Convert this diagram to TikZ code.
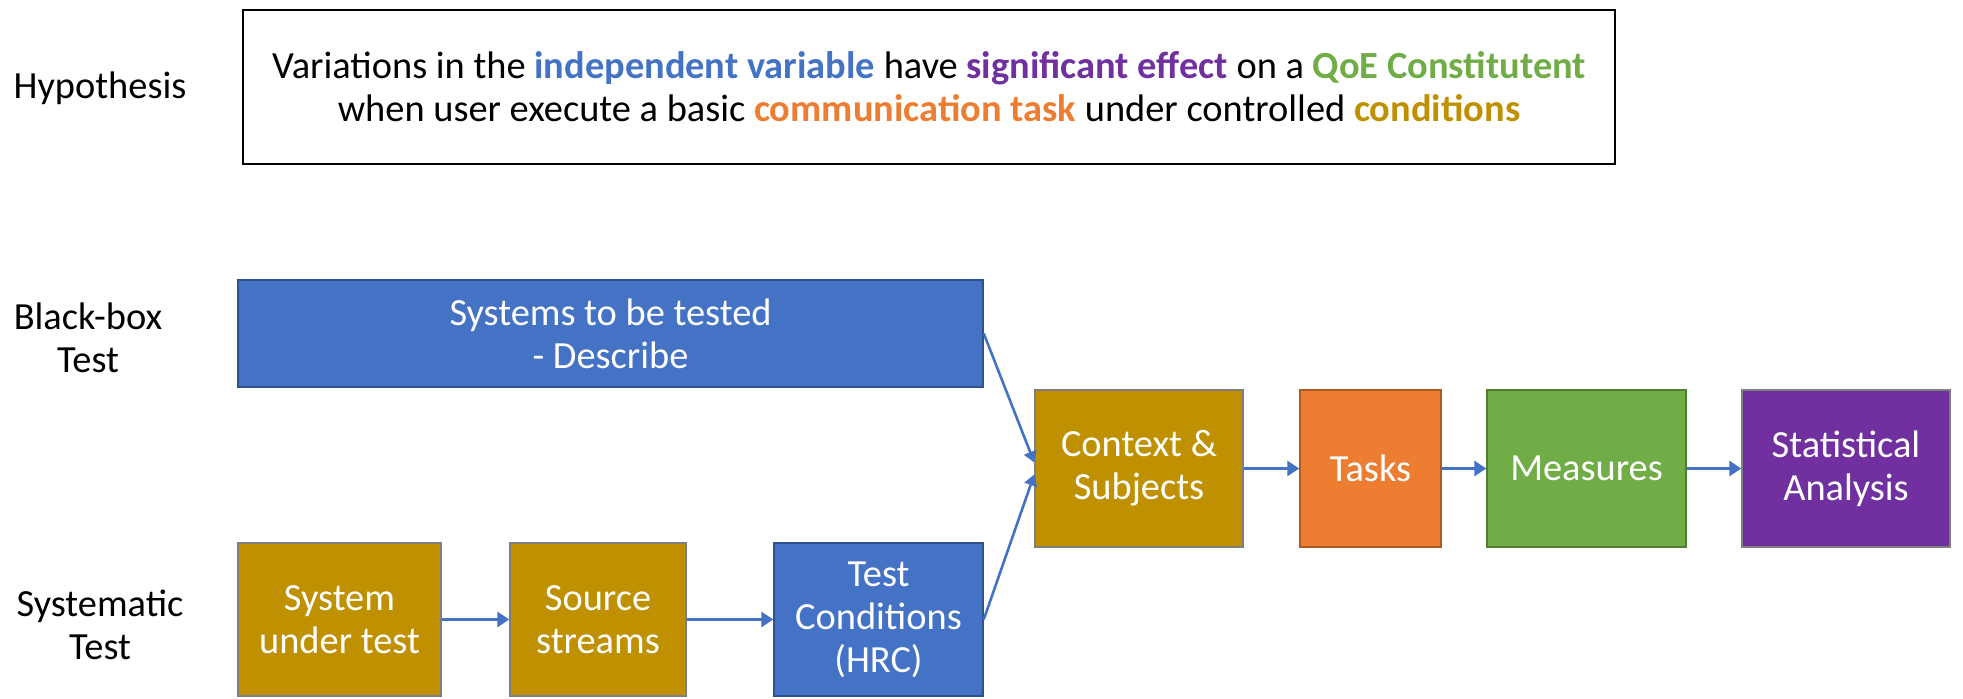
\documentclass[tikz,border=0pt]{standalone}
\usepackage{fontspec}
\setmainfont{Carlito}
\usetikzlibrary{arrows.meta}

\definecolor{offblue}{HTML}{4472C4}
\definecolor{offblueline}{HTML}{2F528F}
\definecolor{offgold}{HTML}{BF9000}
\definecolor{offorange}{HTML}{ED7D31}
\definecolor{offorangeline}{HTML}{AE5A21}
\definecolor{offgreen}{HTML}{70AD47}
\definecolor{offgreenline}{HTML}{507E32}
\definecolor{offpurple}{HTML}{7030A0}
\definecolor{offgray}{HTML}{7F7F7F}

\begin{document}
\begin{tikzpicture}[x=0.5pt, y=-0.5pt,
    every node/.style={font=\fontsize{19.2}{21.5}\selectfont, align=center, inner sep=0},
    blk/.style={draw, line width=0.75pt, text=white},
    blueblk/.style={blk, fill=offblue, draw=offblueline},
    goldblk/.style={blk, fill=offgold, draw=offgray},
    link/.style={draw=offblue, line width=1.9pt, -{Triangle[length=6pt, width=7.5pt]}},
    feed/.style={draw=offblue, line width=1.3pt, -{Triangle[length=5.5pt, width=6.5pt]}}]
    \useasboundingbox (0, 0) rectangle (1963, 699);

    % row labels
    \node (hyp-label) at (100, 88) {Hypothesis};
    \node (bb-label) at (88, 338) {Black-box\\Test};
    \node (sys-label) at (100, 625) {Systematic\\Test};

    % hypothesis
    \node[draw=black, line width=1pt, minimum width=686pt, minimum height=77pt]
        (hyp) at (929, 87)
        {Variations in the \textbf{\color{offblue}independent variable} have
         \textbf{\color{offpurple}significant effect} on a
         \textbf{\color{offgreen}QoE Constitutent}\\
         when user execute a basic \textbf{\color{offorange}communication task}
         under controlled \textbf{\color{offgold}conditions}};

    % black-box path
    \node[blueblk, minimum width=372.5pt, minimum height=53.5pt]
        (systems) at (610.5, 333.5) {Systems to be tested\\- Describe};

    % systematic path
    \node[goldblk, minimum width=101.5pt, minimum height=76.5pt]
        (sut) at (339.5, 619.5) {System\\under test};
    \node[goldblk, minimum width=88pt, minimum height=76.5pt]
        (src) at (598, 619.5) {Source\\streams};
    \node[blueblk, minimum width=104.5pt, minimum height=76.5pt]
        (hrc) at (878.5, 619.5) {Test\\Conditions\\(HRC)};

    % common chain
    \node[goldblk, minimum width=104pt, minimum height=78.5pt]
        (ctx) at (1139, 468.5) {Context \&\\Subjects};
    \node[blk, fill=offorange, draw=offorangeline, minimum width=70.5pt, minimum height=78.5pt]
        (tasks) at (1370.5, 468.5) {Tasks};
    \node[blk, fill=offgreen, draw=offgreenline, minimum width=99.5pt, minimum height=78.5pt]
        (measures) at (1586.5, 468.5) {Measures};
    \node[blk, fill=offpurple, draw=offgray, minimum width=104pt, minimum height=78.5pt]
        (stats) at (1846, 468.5) {Statistical\\Analysis};

    \draw[link] (sut) -- (src);
    \draw[link] (src) -- (hrc);
    \draw[feed] (systems.east) -- ([yshift=3pt]ctx.west);
    \draw[feed] (hrc.east) -- ([yshift=-3pt]ctx.west);
    \draw[link] (ctx) -- (tasks);
    \draw[link] (tasks) -- (measures);
    \draw[link] (measures) -- (stats);
\end{tikzpicture}
\end{document}
